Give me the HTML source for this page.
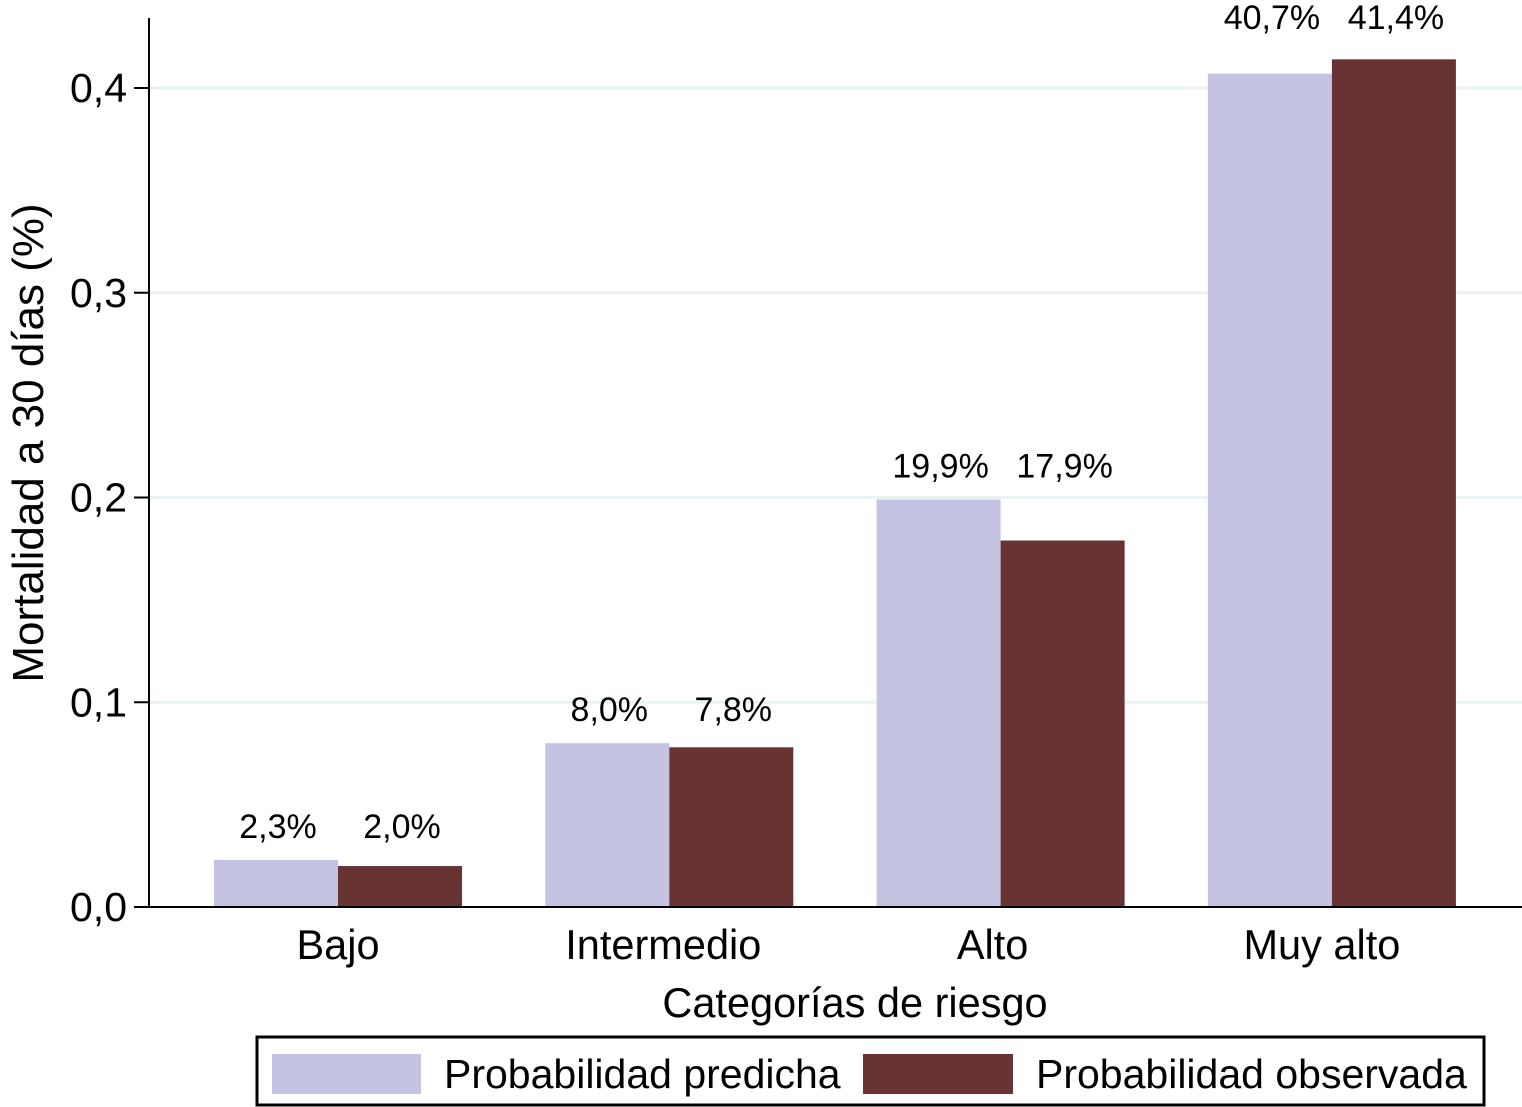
<!DOCTYPE html>
<html><head><meta charset="utf-8"><style>
body{margin:0;background:#fff;}
svg{display:block;font-family:"Liberation Sans",sans-serif;}
</style></head><body>
<svg id="chart" width="1522" height="1107">
<g id="grid"></g><g id="bars"></g><g id="labels"></g><g id="axes"></g>
<text transform="translate(43,443) rotate(-90)" text-anchor="middle" font-size="44" fill="#000">Mortalidad a 30 días (%)</text>
<text x="855" y="1017" text-anchor="middle" font-size="41.5" fill="#000">Categorías de riesgo</text>
<g>
<rect x="257" y="1037" width="1227" height="68" fill="#fff" stroke="#000" stroke-width="3"/>
<rect x="272" y="1054" width="149" height="40" fill="#c4c4e2"/>
<text x="444" y="1088" font-size="41">Probabilidad predicha</text>
<rect x="863" y="1054" width="150" height="40" fill="#673333"/>
<text x="1036" y="1088" font-size="41">Probabilidad observada</text>
</g>
</svg>
<script>
const categories=["Bajo","Intermedio","Alto","Muy alto"];
const predicted=[0.023,0.080,0.199,0.407];
const observed=[0.020,0.078,0.179,0.414];
const predictedLabels=["2,3%","8,0%","19,9%","40,7%"];
const observedLabels=["2,0%","7,8%","17,9%","41,4%"];
const yTicks=[0,0.1,0.2,0.3,0.4];
const yTickLabels=["0,0","0,1","0,2","0,3","0,4"];
const NS="http://www.w3.org/2000/svg";
const y0=907, pxPer=2047.5;
function y(v){return y0-v*pxPer;}
function xc(i){return 338+i*331.3;}
function mk(tag,attrs,parent,txt){const e=document.createElementNS(NS,tag);for(const k in attrs)e.setAttribute(k,attrs[k]);if(txt!==undefined)e.textContent=txt;document.getElementById(parent).appendChild(e);return e;}
yTicks.forEach((t,i)=>{
 if(t>0){const g=mk('line',{x1:149,x2:1522,y1:y(t),y2:y(t),stroke:'#eaf2f3','stroke-width':3},'grid');
 
 }
 const tk=mk('line',{x1:134,x2:149,y1:y(t),y2:y(t),stroke:'#000','stroke-width':2},'axes');
 
 
 const tl=mk('text',{x:127,y:y(t)+14,'text-anchor':'end','font-size':41},'axes',yTickLabels[i]);
 
 
});
const bw=124;
categories.forEach((c,i)=>{
 const cx=xc(i);
 const gTop=y(Math.max(predicted[i],observed[i]));
 const ly=gTop<100?29:gTop-22;
 [[predicted,predictedLabels,'#c4c4e2',cx-bw,'predicted'],[observed,observedLabels,'#673333',cx,'observed']].forEach(([arr,labs,col,x,nm])=>{
  const top=y(arr[i]);
  const r=mk('rect',{x:x,y:top,width:bw,height:y0-top,fill:col},'bars');
  
  
  const t=mk('text',{x:x+bw/2+2,y:ly,'text-anchor':'middle','font-size':34},'labels',labs[i]);
  
  
 });
 const cl=mk('text',{x:cx-(i?4+2*i:0),y:959,'text-anchor':'middle','font-size':41.5},'axes',c);
 
 
});
const ya=mk('line',{x1:149,x2:149,y1:18,y2:908,stroke:'#000','stroke-width':2},'axes');


const xa=mk('line',{x1:148,x2:1522,y1:907,y2:907,stroke:'#000','stroke-width':2},'axes');


</script>
</body></html>
